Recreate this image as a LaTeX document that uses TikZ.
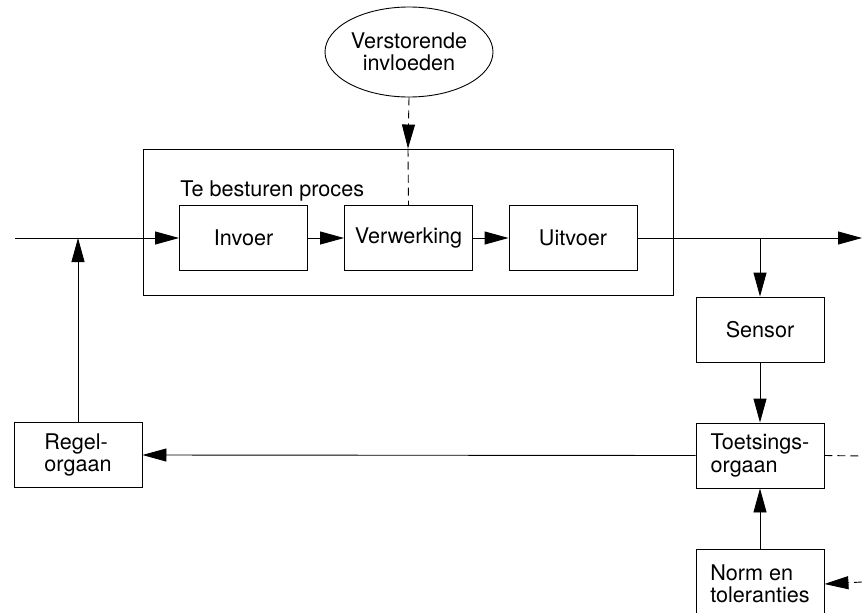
\documentclass[tikz,border=0pt]{standalone}
\usepackage{fontspec}
\setmainfont{TeX Gyre Heros}
\usetikzlibrary{arrows.meta,shapes.geometric}

\newlength{\du}
\setlength{\du}{1pt}

\begin{document}
\begin{tikzpicture}[
  font=\fontsize{21.6}{22.5}\selectfont,
  line width=0.9\du,
  blok/.style={draw, minimum width=128\du, minimum height=65\du, inner sep=0pt, align=left},
  pijl/.style={-{Triangle[length=24pt,width=13pt]}},
  stippel/.style={dash pattern=on 8pt off 5pt}
]
\pgftransformxscale{1.000000}
\pgftransformyscale{-1.000000}
\useasboundingbox (0\du,0\du) rectangle (862\du,613\du);
% verstoring
\node[draw, ellipse, minimum width=168\du, minimum height=90\du, inner sep=0pt, align=center] (storing) at (409\du,52\du) {Verstorende\\invloeden};
% proces
\node[draw, minimum width=530\du, minimum height=146\du, inner sep=0pt] (proces) at (408\du,222\du) {};
\node[anchor=base west, inner sep=0pt] (proceslabel) at (180\du,196\du) {Te besturen proces};
\node[blok] (invoer) at (243.5\du,238\du) {Invoer};
\node[blok] (verwerking) at (408.5\du,238\du) {Verwerking};
\node[blok] (uitvoer) at (573\du,238\du) {Uitvoer};
% terugkoppeling
\node[blok] (sensor) at (760\du,329.5\du) {Sensor};
\node[blok] (toetsing) at (760\du,455.5\du) {Toetsings-\\orgaan};
\node[blok, minimum height=70\du] (norm) at (760\du,584\du) {Norm en\\toleranties};
\node[blok] (regel) at (78\du,455\du) {Regel-\\orgaan};
\coordinate (ingang) at (15\du,238\du);
\coordinate (uitgang) at (862\du,238\du);
\coordinate (aftak) at (760\du,238\du);
\coordinate (inkoppel) at (78\du,238\du);
\coordinate (rechtsboven) at (862\du,456\du);
\coordinate (rechtsonder) at (862\du,582\du);
\draw[pijl] (ingang) -- (invoer.west);
\draw[pijl] (invoer.east) -- (verwerking.west);
\draw[pijl] (verwerking.east) -- (uitvoer.west);
\draw[pijl] (uitvoer.east) -- (uitgang);
\draw[pijl] (aftak) -- (sensor.north);
\draw[pijl] (sensor.south) -- (toetsing.north);
\draw[pijl] (norm.north) -- (toetsing.south);
\draw[pijl] (toetsing.west) -- (regel.east);
\draw[pijl] (regel.north) -- (inkoppel);
% stippellijnen
\draw[pijl, stippel] (storing.south) -- (proces.north);
\draw[stippel] (proces.north) -- (verwerking.north);
\draw[stippel] (toetsing.east) -- (rechtsboven);
\draw[pijl, stippel] (rechtsonder) -- (norm.east);
\end{tikzpicture}
\end{document}
